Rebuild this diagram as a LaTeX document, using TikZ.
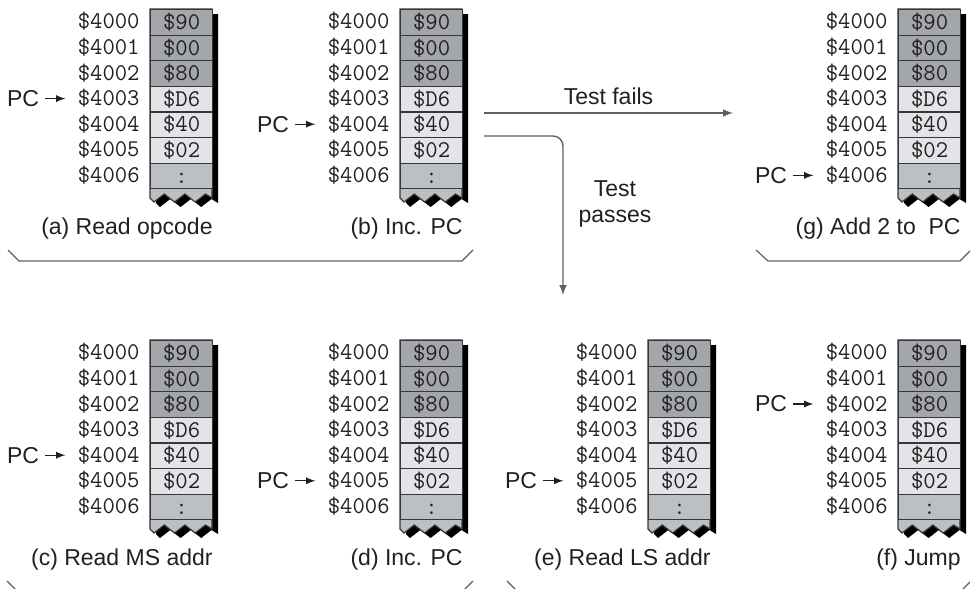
\documentclass[tikz,border=0pt]{standalone}
\usepackage{fontspec}
\setmainfont{Liberation Sans}
\usepackage{tikz}
\usetikzlibrary{arrows,positioning,calc}
\definecolor{dkcell}{RGB}{163,166,171}
\definecolor{ltcell}{RGB}{226,228,231}
\definecolor{mdcell}{RGB}{188,191,196}
\definecolor{edge}{RGB}{55,55,55}
\definecolor{ink}{RGB}{35,31,32}
\definecolor{wire}{RGB}{95,95,95}
\newcommand{\memfont}{\ttfamily\fontsize{12}{13}\selectfont}

\tikzset{
  cell/.style={draw=edge,line width=0.6pt,minimum width=31pt,minimum height=12.8pt,
    inner sep=0pt,anchor=north west,text=ink,
    font=\memfont,text height=8pt,text depth=1pt},
  addr/.style={inner sep=1pt,anchor=east,text=ink,
    font=\memfont,text height=8pt,text depth=1pt},
  pclabel/.style={inner sep=1pt,text=ink,font=\fontsize{11.5}{13}\selectfont},
  pcarrow/.style={-latex,line width=0.6pt,ink,shorten <=2pt,shorten >=5pt},
  caption/.style={inner sep=1pt,anchor=east,text=ink,font=\fontsize{11.5}{13}\selectfont},
  testline/.style={-latex,line width=0.7pt,wire},
  testlabel/.style={inner sep=1pt,text=ink,align=center,font=\fontsize{11.5}{13}\selectfont},
  bracket/.style={line width=0.6pt,wire}
}

% one memory column: left, top, PC row, name, caption
\newcommand{\memblock}[5]{%
  \begin{scope}[shift={(6,5)}]
    \fill[black] (#1,#2) -- ++(0,189) -- ++(4,4) -- ++(10.3,-8) -- ++(10.3,8)
      -- ++(10.3,-8) -- ++(10.3,8) -- ++(10.3,-8) -- ++(6.5,4) -- ++(0,-189) -- cycle;
  \end{scope}
  \filldraw[fill=mdcell,draw=edge,line width=0.6pt] (#1,#2) -- ++(0,189) -- ++(4,4)
    -- ++(10.3,-8) -- ++(10.3,8) -- ++(10.3,-8) -- ++(10.3,8) -- ++(10.3,-8)
    -- ++(6.5,4) -- ++(0,-189) -- cycle;
  \foreach \val/\shade [count=\i from 0] in
    {\$90/dkcell,\$00/dkcell,\$80/dkcell,\$D6/ltcell,\$40/ltcell,\$02/ltcell,:/mdcell}{
    \node[cell,fill=\shade] (#4-cell-\i) at ({#1},{#2+25.6*\i}) {\val};
    \node[addr] (#4-addr-\i) at ({#1-8},{#2+12.8+25.6*\i}) {\$400\i};
  }
  \node[pclabel,left=17pt of #4-addr-#3] (#4-pc) {PC};
  \draw[pcarrow] (#4-pc) -- (#4-addr-#3);
  \node[caption] (#4-cap) at ({#1+65},{#2+220}) {#5};
}

\begin{document}
\begin{tikzpicture}[x=0.5pt,y=-0.5pt]
\useasboundingbox (0,0) rectangle (970,589);

% top row
\memblock{150}{9}{3}{a}{(a) Read opcode}
\memblock{400}{9}{4}{b}{(b) Inc. PC}
\memblock{898}{9}{6}{g}{(g) Add 2 to~ PC}

% bottom row
\memblock{150}{340}{4}{c}{(c) Read MS addr}
\memblock{400}{340}{5}{d}{(d) Inc. PC}
\memblock{648}{340}{5}{e}{(e) Read LS addr}
\memblock{898}{340}{2}{f}{(f) Jump}

% branch
\coordinate (failstart) at (484,113);
\coordinate (failend) at (733,113);
\coordinate (passstart) at (484,136);
\coordinate (passend) at (563,295);
\draw[testline] (failstart) -- node[testlabel,above=3pt] (fails) {Test fails} (failend);
\draw[testline,rounded corners=5pt] (passstart) -| (passend);
\node[testlabel] (passes) at (615,204) {Test\\passes};

% brackets
\draw[bracket] (8,250) -- (19,261) -- (462,261) -- (473,250);
\draw[bracket] (756,250) -- (768,261) -- (960,261) -- (971,250);
\draw[bracket] (7,581) -- (18,592) -- (462,592) -- (473,581);
\draw[bracket] (507,581) -- (518,592) -- (960,592) -- (971,581);
\end{tikzpicture}
\end{document}
